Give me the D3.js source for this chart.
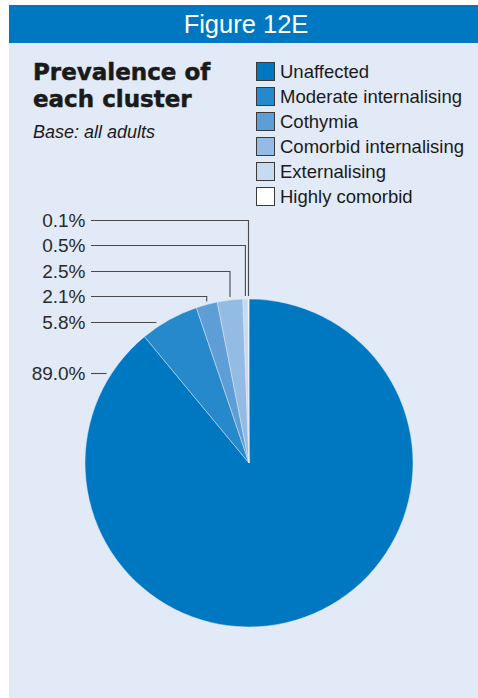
<!DOCTYPE html>
<html><head><meta charset="utf-8">
<script src="https://cdn.jsdelivr.net/npm/d3@7"></script>
<style>html,body{margin:0;padding:0;background:#fff;}svg{display:block;}</style>
</head><body>
<svg id="c" width="478" height="698"></svg>
<script>
const categories = ["Unaffected","Moderate internalising","Cothymia","Comorbid internalising","Externalising","Highly comorbid"];
const values = [89.0, 5.8, 2.1, 2.5, 0.5, 0.1];
const valueLabels = ["89.0%","5.8%","2.1%","2.5%","0.5%","0.1%"];
const colors = ["#0077c1","#2589cb","#5d9ed6","#94bbe3","#c6daf0","#ffffff"];

const svg = d3.select("#c");
const font = "'Liberation Sans', Arial, Helvetica, sans-serif";

// panel
svg.append("rect").attr("x",9).attr("y",43).attr("width",469).attr("height",655).attr("fill","#e2eaf7");
svg.append("rect").attr("x",9).attr("y",5).attr("width",469).attr("height",38).attr("fill","#0078c1");
svg.append("text").attr("x",246).attr("y",33).attr("text-anchor","middle")
  .attr("font-family",font).attr("font-size",25.5).attr("fill","#fff").text("Figure 12E");

// title
const t = svg.append("text").attr("font-family","'DejaVu Sans', sans-serif").attr("font-weight","bold")
  .attr("font-size",23).attr("fill","#1a1a1a").attr("stroke","#1a1a1a").attr("stroke-width",0.5);
t.append("tspan").attr("x",33).attr("y",80).text("Prevalence of");
t.append("tspan").attr("x",33).attr("y",107).text("each cluster");
svg.append("text").attr("x",33).attr("y",138).attr("font-family",font).attr("font-style","italic")
  .attr("font-size",18).attr("fill","#1a1a1a").text("Base: all adults");

// legend
const leg = svg.append("g");
categories.forEach((c,i)=>{
  const y = 62 + i*25;
  leg.append("rect").attr("x",256.5).attr("y",y+0.5).attr("width",18).attr("height",18)
    .attr("fill",colors[i]).attr("stroke","#3a3a3a").attr("stroke-width",1);
  leg.append("text").attr("x",280).attr("y",y+16).attr("font-family",font).attr("font-size",18.5)
    .attr("fill","#1a1a1a").text(c);
});

// pie
const cx = 249, cy = 463, r = 164;
const pie = d3.pie().sort(null).value(d=>d)(values);
const arc = d3.arc().innerRadius(0).outerRadius(r);
const g = svg.append("g").attr("transform",`translate(${cx},${cy})`);
g.selectAll("path").data(pie).join("path").attr("d",arc)
  .attr("fill",(d,i)=>colors[i]).attr("stroke","#dfe9f5").attr("stroke-width",0.5);

// labels + leaders
const labelBase = {5:227, 4:252, 3:278, 2:303, 1:329, 0:380};
const lg = svg.append("g");
pie.forEach((d,i)=>{
  const by = labelBase[i];
  const ly = by - 6.5;
  lg.append("text").attr("x",85.5).attr("y",by).attr("text-anchor","end")
    .attr("font-family",font).attr("font-size",19).attr("fill","#2a2a2a").text(valueLabels[i]);
  const mid = (d.startAngle + d.endAngle)/2;
  const ax = cx + r*Math.sin(mid), ay = cy - r*Math.cos(mid);
  let pts;
  if (ay - ly > 5 && i > 0) {
    pts = [[91,ly],[ax,ly],[ax,ay-3]];
  } else {
    const dx = Math.sqrt(r*r - (ly-cy)*(ly-cy));
    pts = [[91,ly],[cx-dx-(i===0?5:8),ly]];
  }
  lg.append("path").attr("d",d3.line()(pts)).attr("fill","none")
    .attr("stroke","#4a4a4a").attr("stroke-width",1.1);
});
</script>
</body></html>
